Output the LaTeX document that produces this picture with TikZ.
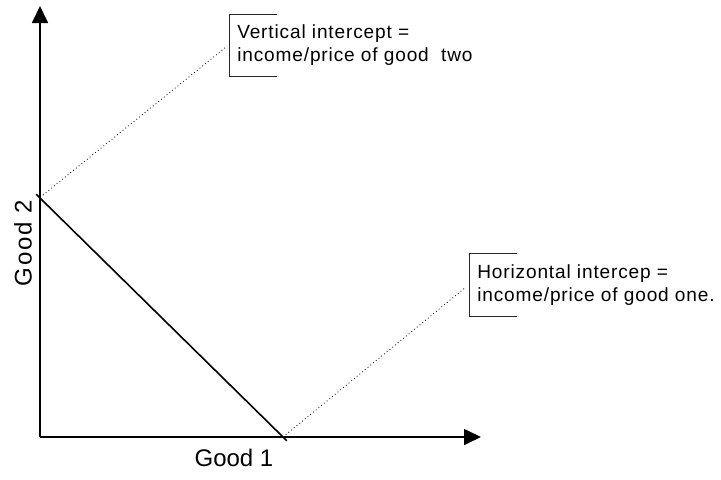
\documentclass[tikz,border=0pt]{standalone}
\usepackage{fontspec}
\setmainfont{Liberation Sans}
\usetikzlibrary{arrows.meta}

\tikzset{
  axis/.style={line width=1.3pt,-{Triangle[length=12.75pt,width=12pt]}},
  note/.style={anchor=north west,inner sep=0pt,align=left,
    font=\fontsize{14.3}{17.25}\selectfont\addfontfeature{LetterSpace=4.5}},
  bracket/.style={line width=0.6pt,black!85},
  guide/.style={dotted,line width=0.65pt,black!90}
}

\begin{document}
\begin{tikzpicture}[x=0.75pt,y=-0.75pt]
\useasboundingbox (0,0) rectangle (721,479);
\coordinate (O) at (40,437);
\coordinate (ytip) at (40,6);
\coordinate (xtip) at (481,437);
\coordinate (A) at (40,198);
\coordinate (B) at (283,437);
\coordinate (vend) at (226,47);
\coordinate (hend) at (466,287);
\draw[axis] (O) -- (ytip);
\draw[axis] (O) -- (xtip);
\draw[line width=1.2pt,shorten <=-4pt,shorten >=-4pt] (A) -- (B);
\node[font=\fontsize{18}{20}\selectfont] (g1) at (234,458) {Good 1};
\node[rotate=90,font=\fontsize{18}{20}\selectfont\addfontfeature{LetterSpace=8}] (g2) at (23,243) {Good 2};
% intercept notes
\node[note] (vnote) at (237,24.4) {Vertical intercept =\\income/price of good\ \ two};
\node[note] (hnote) at (477,264.4) {Horizontal intercep =\\income/price of good one.};
\draw[bracket] (277,14) -| (229,76) -- (277,76);
\draw[bracket] (517,253) -| (469,316) -- (517,316);
\draw[guide] ([shift={(3,-3)}]A) -- (vend);
\draw[guide] (B) -- (hend);
\end{tikzpicture}
\end{document}
